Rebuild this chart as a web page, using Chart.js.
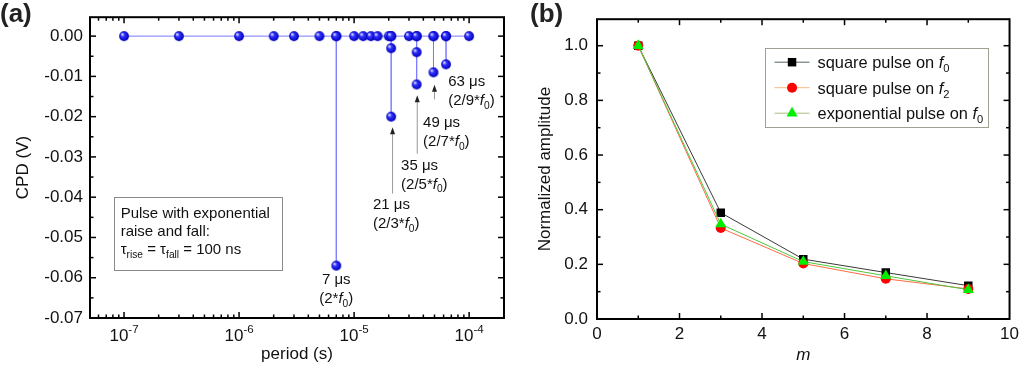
<!DOCTYPE html>
<html>
<head>
<meta charset="utf-8">
<script src="https://cdn.jsdelivr.net/npm/chart.js@4.4.0/dist/chart.umd.min.js"></script>
<style>
  html, body { margin: 0; padding: 0; background: #fff; }
  #wrapA { position: absolute; left: 0; top: 0; width: 520px; height: 367px; }
  #wrapB { position: absolute; left: 520px; top: 0; width: 504px; height: 367px; }
</style>
</head>
<body>
<div id="wrapA"><canvas id="chartA"></canvas></div>
<div id="wrapB"><canvas id="chartB"></canvas></div>
<script>
"use strict";

// panel (a): CPD vs period, listed in the order the line joins them
const periods = [1e-7, 3e-7, 1e-6, 2e-6, 3e-6, 5e-6, 7e-6, 7e-6, 7e-6,
  10e-6, 12e-6, 14e-6, 16e-6, 20e-6, 21e-6, 21e-6, 21e-6, 21e-6,
  30e-6, 35e-6, 35e-6, 35e-6, 35e-6, 49e-6, 49e-6, 49e-6, 63e-6, 63e-6, 63e-6, 100e-6];
const cpd = [0, 0, 0, 0, 0, 0, 0, -0.057, 0,
  0, 0, 0, 0, 0, 0, -0.003, -0.020, 0,
  0, 0, -0.004, -0.012, 0, 0, -0.009, 0, 0, -0.007, 0, 0];
const periodTicks = [1e-7, 1e-6, 1e-5, 1e-4];
const periodTickExp = ['-7', '-6', '-5', '-4'];

// panel (b): normalized amplitude vs m
const mValues = [1, 3, 5, 7, 9];
const squareF0 = [1.0, 0.389, 0.219, 0.170, 0.122];
const squareF2 = [1.0, 0.333, 0.203, 0.147, 0.110];
const expF0 = [1.0, 0.347, 0.210, 0.158, 0.107];

const FONT = "'Liberation Sans', Arial, Helvetica, sans-serif";

function sphere(r) {
  const c = document.createElement('canvas');
  const s = Math.ceil(r * 2) + 2;
  c.width = c.height = s;
  const g = c.getContext('2d');
  const m = s / 2;
  const grad = g.createRadialGradient(m - r * 0.4, m - r * 0.4, r * 0.1, m, m, r);
  grad.addColorStop(0, '#d8d8ff');
  grad.addColorStop(0.35, '#3030ff');
  grad.addColorStop(1, '#0000b8');
  g.fillStyle = grad;
  g.beginPath();
  g.arc(m, m, r, 0, Math.PI * 2);
  g.fill();
  return c;
}

// parts: [text, style] with style '', 'i', 'sub', 'sup'
function drawRich(ctx, parts, x, y, size, align) {
  const small = size * 0.68;
  const fontOf = (st) => (st === 'i' ? 'italic ' : '') + (st === 'sub' || st === 'sup' ? small : size) + 'px ' + FONT;
  let w = 0;
  parts.forEach(p => { ctx.font = fontOf(p[1]); w += ctx.measureText(p[0]).width; });
  let cx = align === 'center' ? x - w / 2 : align === 'right' ? x - w : x;
  ctx.textAlign = 'left';
  ctx.textBaseline = 'alphabetic';
  parts.forEach(p => {
    ctx.font = fontOf(p[1]);
    let dy = 0;
    if (p[1] === 'sub') dy = size * 0.25;
    if (p[1] === 'sup') dy = -size * 0.45;
    ctx.fillText(p[0], cx, y + dy);
    cx += ctx.measureText(p[0]).width;
  });
}

function seg(ctx, x0, y0, x1, y1) {
  ctx.beginPath();
  ctx.moveTo(x0, y0);
  ctx.lineTo(x1, y1);
  ctx.stroke();
}

// frame with inward ticks on all four sides
const frameTicks = {
  id: 'frameTicks',
  afterDatasetsDraw(chart, args, o) {
    const { ctx, chartArea: a } = chart;
    const x = chart.scales.x, y = chart.scales.y;
    ctx.save();
    ctx.strokeStyle = '#000';
    ctx.lineWidth = 1.5;
    const xt = (v, len) => {
      const p = x.getPixelForValue(v);
      if (p < a.left + 1 || p > a.right - 1) return;
      seg(ctx, p, a.bottom, p, a.bottom - len);
      seg(ctx, p, a.top, p, a.top + len);
    };
    const yt = (v, len) => {
      const p = y.getPixelForValue(v);
      if (p < a.top + 1 || p > a.bottom - 1) return;
      seg(ctx, a.left, p, a.left + len, p);
      seg(ctx, a.right, p, a.right - len, p);
    };
    o.xMajor.forEach(v => xt(v, 6));
    o.xMinor.forEach(v => xt(v, 3.5));
    o.yMajor.forEach(v => yt(v, 6));
    o.yMinor.forEach(v => yt(v, 3.5));
    ctx.lineWidth = 2;
    ctx.strokeRect(a.left, a.top, a.right - a.left, a.bottom - a.top);
    ctx.restore();
  }
};

const logMinors = [];
[-8, -7, -6, -5, -4].forEach(e => {
  for (let k = 2; k <= 9; k++) logMinors.push(k * Math.pow(10, e));
});

const notesA = {
  id: 'notesA',
  afterDraw(chart) {
    const { ctx, chartArea: a } = chart;
    const x = chart.scales.x, y = chart.scales.y;
    ctx.save();
    ctx.fillStyle = '#111';

    // log axis labels with superscript exponent
    periodTicks.forEach((v, i) => {
      drawRich(ctx, [['10', ''], [periodTickExp[i], 'sup']], x.getPixelForValue(v), a.bottom + 23, 17, 'center');
    });

    // arrows
    const arrows = [
      { x: 21.6e-6, from: -0.0391, to: -0.0226 },
      { x: 35.4e-6, from: -0.0292, to: -0.0147 },
      { x: 50e-6, from: -0.0157, to: -0.0121 }
    ];
    arrows.forEach(ar => {
      const px = x.getPixelForValue(ar.x);
      const p0 = y.getPixelForValue(ar.from), p1 = y.getPixelForValue(ar.to);
      ctx.strokeStyle = '#999';
      ctx.lineWidth = 1;
      seg(ctx, px, p0, px, p1 + 5);
      ctx.fillStyle = '#222';
      ctx.beginPath();
      ctx.moveTo(px, p1);
      ctx.lineTo(px - 2.5, p1 + 7);
      ctx.lineTo(px + 2.5, p1 + 7);
      ctx.closePath();
      ctx.fill();
    });

    // frequency labels
    const labels = [
      { x: 7e-6, y: -0.0604, align: 'center', t: '7 μs', f: [['(2*', ''], ['f', 'i'], ['0', 'sub'], [')', '']] },
      { x: 14.6e-6, y: -0.0418, align: 'left', t: '21 μs', f: [['(2/3*', ''], ['f', 'i'], ['0', 'sub'], [')', '']] },
      { x: 25.6e-6, y: -0.0319, align: 'left', t: '35 μs', f: [['(2/5*', ''], ['f', 'i'], ['0', 'sub'], [')', '']] },
      { x: 39.8e-6, y: -0.0214, align: 'left', t: '49 μs', f: [['(2/7*', ''], ['f', 'i'], ['0', 'sub'], [')', '']] },
      { x: 65.7e-6, y: -0.0111, align: 'left', t: '63 μs', f: [['(2/9*', ''], ['f', 'i'], ['0', 'sub'], [')', '']] }
    ];
    ctx.fillStyle = '#111';
    labels.forEach(l => {
      const px = x.getPixelForValue(l.x), py = y.getPixelForValue(l.y);
      drawRich(ctx, [[l.t, '']], px, py + 5, 15, l.align);
      drawRich(ctx, l.f, px, py + 24, 15, l.align);
    });

    // info box
    const bx0 = x.getPixelForValue(8.13e-8), bx1 = x.getPixelForValue(2.35e-6);
    const by0 = y.getPixelForValue(-0.0400), by1 = y.getPixelForValue(-0.0582);
    ctx.strokeStyle = '#8a8a8a';
    ctx.lineWidth = 1;
    ctx.strokeRect(Math.round(bx0) + 0.5, Math.round(by0) + 0.5, Math.round(bx1 - bx0), Math.round(by1 - by0));
    ctx.fillStyle = '#111';
    drawRich(ctx, [['Pulse with exponential', '']], bx0 + 7, by0 + 21, 15, 'left');
    drawRich(ctx, [['raise and fall:', '']], bx0 + 7, by0 + 39, 15, 'left');
    drawRich(ctx, [['τ', ''], ['rise', 'sub'], [' = τ', ''], ['fall', 'sub'], [' = 100 ns', '']], bx0 + 7, by0 + 57, 15, 'left');

    // panel letter
    ctx.fillStyle = '#222';
    ctx.font = 'bold 26px ' + FONT;
    ctx.textAlign = 'left';
    ctx.textBaseline = 'alphabetic';
    ctx.fillText('(a)', 0, 22);
    ctx.restore();
  }
};

const legendB = {
  id: 'legendB',
  afterDraw(chart) {
    const { ctx, chartArea: a } = chart;
    const bw = 223, bh = 79;
    const bx = a.right - 22 - bw, by = a.top + 29;
    ctx.save();
    ctx.fillStyle = '#fff';
    ctx.fillRect(bx, by, bw, bh);
    ctx.strokeStyle = '#a09f90';
    ctx.lineWidth = 1;
    ctx.strokeRect(Math.round(bx) + 0.5, Math.round(by) + 0.5, bw, bh);
    chart.data.datasets.forEach((ds, i) => {
      const cy = by + 14 + i * 25.5;
      ctx.strokeStyle = ds.legendLine;
      ctx.lineWidth = 1;
      seg(ctx, bx + 10, cy, bx + 45, cy);
      ctx.fillStyle = ds.pointBackgroundColor;
      Chart.helpers.drawPoint(ctx, { pointStyle: ds.pointStyle, radius: ds.pointRadius, rotation: 0, borderWidth: 0 }, bx + 27.5, cy);
      ctx.fillStyle = '#111';
      drawRich(ctx, ds.legendParts, bx + 53, cy + 6, 16.4, 'left');
    });
    ctx.fillStyle = '#222';
    ctx.font = 'bold 26px ' + FONT;
    ctx.textAlign = 'left';
    ctx.textBaseline = 'alphabetic';
    ctx.fillText('(b)', 10, 22);
    ctx.restore();
  }
};

const tickFont = { family: FONT, size: 17 };
const titleFont = { family: FONT, size: 17 };

new Chart(document.getElementById('chartA'), {
  type: 'line',
  data: {
    datasets: [{
      data: periods.map((p, i) => ({ x: p, y: cpd[i] })),
      borderColor: '#7a7aff',
      borderWidth: 1,
      pointStyle: sphere(4.9),
      pointRadius: 4.9,
      tension: 0
    }]
  },
  options: {
    responsive: true,
    maintainAspectRatio: false,
    animation: false,
    events: [],
    layout: { padding: { top: 14, right: 16, left: 0, bottom: 0 } },
    plugins: {
      legend: { display: false },
      tooltip: { enabled: false },
      frameTicks: {
        xMajor: periodTicks,
        xMinor: logMinors,
        yMajor: [-0.07, -0.06, -0.05, -0.04, -0.03, -0.02, -0.01, 0],
        yMinor: [-0.065, -0.055, -0.045, -0.035, -0.025, -0.015, -0.005]
      }
    },
    scales: {
      x: {
        type: 'logarithmic',
        min: 5.06e-8,
        max: 2.01e-4,
        grid: { display: false, drawTicks: false },
        border: { display: false },
        ticks: { display: false },
        title: { display: true, text: 'period (s)', font: titleFont, color: '#111', padding: { top: 0, bottom: 2 } },
        afterFit(s) { s.height = 49; }
      },
      y: {
        min: -0.07,
        max: 0.0047,
        grid: { display: false, drawTicks: false },
        border: { display: false },
        ticks: {
          stepSize: 0.01,
          includeBounds: false,
          padding: 7,
          color: '#111',
          font: tickFont,
          callback: v => (Math.abs(v) < 1e-9 ? 0 : v).toFixed(2)
        },
        title: { display: true, text: 'CPD (V)', font: titleFont, color: '#111', padding: { top: 13, bottom: 0 } },
        afterFit(s) { s.width = 90; }
      }
    }
  },
  plugins: [frameTicks, notesA]
});

new Chart(document.getElementById('chartB'), {
  type: 'line',
  data: {
    datasets: [
      {
        label: 'square pulse on f0',
        data: mValues.map((m, i) => ({ x: m, y: squareF0[i] })),
        borderColor: '#3a3a3a',
        legendLine: '#556655',
        borderWidth: 1,
        pointStyle: 'rect',
        pointRadius: 6,
        pointBackgroundColor: '#000',
        pointBorderWidth: 0,
        order: 3,
        legendParts: [['square pulse on ', ''], ['f', 'i'], ['0', 'sub']]
      },
      {
        label: 'square pulse on f2',
        data: mValues.map((m, i) => ({ x: m, y: squareF2[i] })),
        borderColor: '#ff6a45',
        legendLine: '#f8b880',
        borderWidth: 1,
        pointStyle: 'circle',
        pointRadius: 5,
        pointBackgroundColor: '#ff0000',
        pointBorderWidth: 0,
        order: 2,
        legendParts: [['square pulse on ', ''], ['f', 'i'], ['2', 'sub']]
      },
      {
        label: 'exponential pulse on f0',
        data: mValues.map((m, i) => ({ x: m, y: expF0[i] })),
        borderColor: '#4cc83a',
        legendLine: '#a8c080',
        borderWidth: 1,
        pointStyle: 'triangle',
        pointRadius: 6.4,
        pointBackgroundColor: '#00ee00',
        pointBorderWidth: 0,
        order: 1,
        legendParts: [['exponential pulse on ', ''], ['f', 'i'], ['0', 'sub']]
      }
    ]
  },
  options: {
    responsive: true,
    maintainAspectRatio: false,
    animation: false,
    events: [],
    layout: { padding: { top: 14, right: 11, left: 0, bottom: 0 } },
    plugins: {
      legend: { display: false },
      tooltip: { enabled: false },
      frameTicks: {
        xMajor: [0, 2, 4, 6, 8, 10],
        xMinor: [1, 3, 5, 7, 9],
        yMajor: [0, 0.2, 0.4, 0.6, 0.8, 1.0],
        yMinor: [0.1, 0.3, 0.5, 0.7, 0.9]
      }
    },
    scales: {
      x: {
        type: 'linear',
        min: 0,
        max: 10,
        grid: { display: false, drawTicks: false },
        border: { display: false },
        ticks: { stepSize: 2, padding: 5, color: '#111', font: tickFont, maxRotation: 0 },
        title: { display: true, text: 'm', font: { family: FONT, size: 17, style: 'italic' }, color: '#111', padding: { top: 0, bottom: 2 } },
        afterFit(s) { s.height = 48; }
      },
      y: {
        min: 0,
        max: 1.097,
        grid: { display: false, drawTicks: false },
        border: { display: false },
        ticks: {
          stepSize: 0.2,
          includeBounds: false,
          padding: 9,
          color: '#111',
          font: tickFont,
          callback: v => v.toFixed(1)
        },
        title: { display: true, text: 'Normalized amplitude', font: titleFont, color: '#111', padding: { top: 15, bottom: 0 } },
        afterFit(s) { s.width = 77; }
      }
    }
  },
  plugins: [frameTicks, legendB]
});
</script>
</body>
</html>
